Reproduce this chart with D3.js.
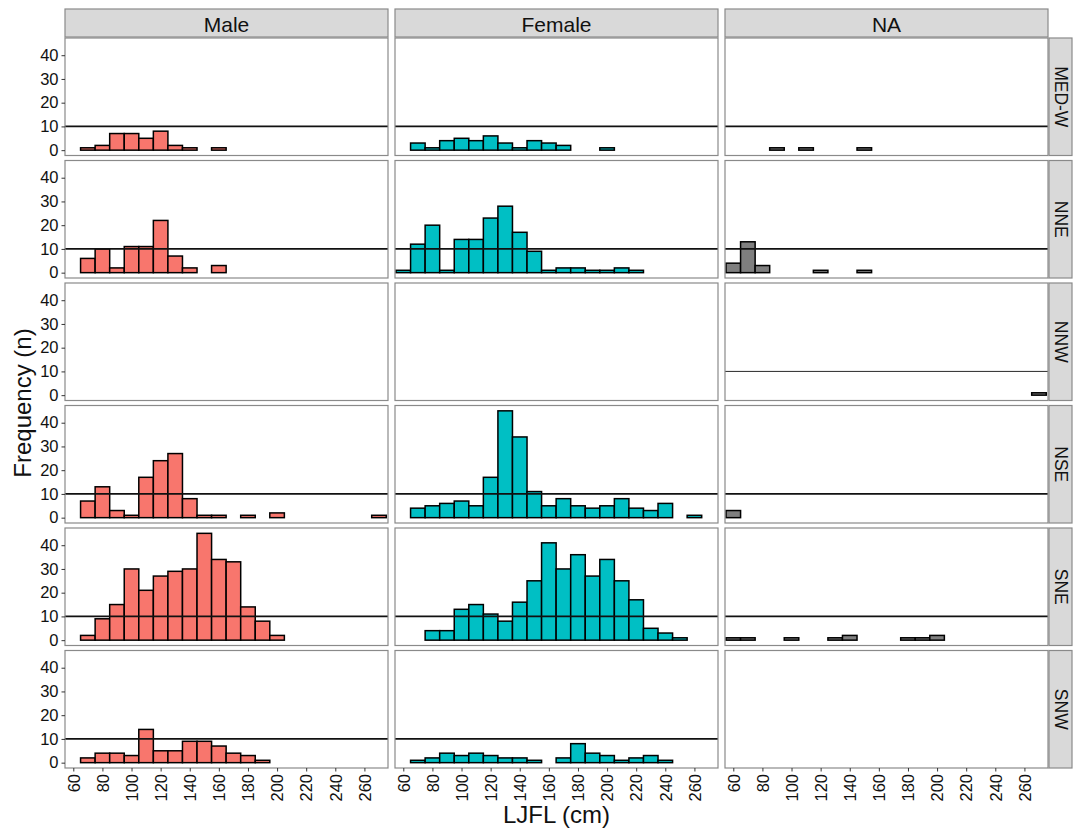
<!DOCTYPE html>
<html>
<head>
<meta charset="utf-8">
<script src="https://cdn.jsdelivr.net/npm/d3@7"></script>
<style>
  html, body { margin: 0; padding: 0; background: #fff; }
  svg { display: block; font-family: "Liberation Sans", Arial, sans-serif; }
</style>
</head>
<body>
<svg id="chart" width="1073" height="831"></svg>
<script>
// Length classes (cm, bin centres, 10 cm wide)
const bins = [60, 70, 80, 90, 100, 110, 120, 130, 140, 150, 160, 170, 180, 190, 200, 210, 220, 230, 240, 250, 260, 270];
const sexes = ["Male", "Female", "NA"];
const regions = ["MED-W", "NNE", "NNW", "NSE", "SNE", "SNW"];
const xTicks = [60, 80, 100, 120, 140, 160, 180, 200, 220, 240, 260];
const yTicks = [0, 10, 20, 30, 40];
const refLine = 10;

// Counts per length class, one array per region and sex
const maleMEDW   = [0, 1, 2, 7, 7, 5, 8, 2, 1, 0, 1, 0, 0, 0, 0, 0, 0, 0, 0, 0, 0, 0];
const femaleMEDW = [0, 3, 1, 4, 5, 4, 6, 3, 1, 4, 3, 2, 0, 0, 1, 0, 0, 0, 0, 0, 0, 0];
const naMEDW     = [0, 0, 0, 1, 0, 1, 0, 0, 0, 1, 0, 0, 0, 0, 0, 0, 0, 0, 0, 0, 0, 0];
const maleNNE    = [0, 6, 10, 2, 11, 11, 22, 7, 2, 0, 3, 0, 0, 0, 0, 0, 0, 0, 0, 0, 0, 0];
const femaleNNE  = [1, 12, 20, 1, 14, 14, 23, 28, 17, 9, 1, 2, 2, 1, 1, 2, 1, 0, 0, 0, 0, 0];
const naNNE      = [4, 13, 3, 0, 0, 0, 1, 0, 0, 1, 0, 0, 0, 0, 0, 0, 0, 0, 0, 0, 0, 0];
const maleNNW    = [0, 0, 0, 0, 0, 0, 0, 0, 0, 0, 0, 0, 0, 0, 0, 0, 0, 0, 0, 0, 0, 0];
const femaleNNW  = [0, 0, 0, 0, 0, 0, 0, 0, 0, 0, 0, 0, 0, 0, 0, 0, 0, 0, 0, 0, 0, 0];
const naNNW      = [0, 0, 0, 0, 0, 0, 0, 0, 0, 0, 0, 0, 0, 0, 0, 0, 0, 0, 0, 0, 0, 1];
const maleNSE    = [0, 7, 13, 3, 1, 17, 24, 27, 8, 1, 1, 0, 1, 0, 2, 0, 0, 0, 0, 0, 0, 1];
const femaleNSE  = [0, 4, 5, 6, 7, 5, 17, 45, 34, 11, 5, 8, 5, 4, 5, 8, 4, 3, 6, 0, 1, 0];
const naNSE      = [3, 0, 0, 0, 0, 0, 0, 0, 0, 0, 0, 0, 0, 0, 0, 0, 0, 0, 0, 0, 0, 0];
const maleSNE    = [0, 2, 9, 15, 30, 21, 27, 29, 30, 45, 34, 33, 14, 8, 2, 0, 0, 0, 0, 0, 0, 0];
const femaleSNE  = [0, 0, 4, 4, 13, 15, 11, 8, 16, 25, 41, 30, 36, 27, 34, 25, 17, 5, 3, 1, 0, 0];
const naSNE      = [1, 1, 0, 0, 1, 0, 0, 1, 2, 0, 0, 0, 1, 1, 2, 0, 0, 0, 0, 0, 0, 0];
const maleSNW    = [0, 2, 4, 4, 3, 14, 5, 5, 9, 9, 7, 4, 3, 1, 0, 0, 0, 0, 0, 0, 0, 0];
const femaleSNW  = [0, 1, 2, 4, 3, 4, 3, 2, 2, 1, 0, 2, 8, 4, 3, 1, 2, 3, 1, 0, 0, 0];
const naSNW      = [0, 0, 0, 0, 0, 0, 0, 0, 0, 0, 0, 0, 0, 0, 0, 0, 0, 0, 0, 0, 0, 0];

const fillColors = ["#F8766D", "#00BFC4", "#7F7F7F"];

const panelCounts = {
  "MED-W": [maleMEDW, femaleMEDW, naMEDW],
  "NNE":   [maleNNE, femaleNNE, naNNE],
  "NNW":   [maleNNW, femaleNNW, naNNW],
  "NSE":   [maleNSE, femaleNSE, naNSE],
  "SNE":   [maleSNE, femaleSNE, naSNE],
  "SNW":   [maleSNW, femaleSNW, naSNW]
};

// Layout
const svg = d3.select("#chart");
const gridLeft = 65, gridRight = 1048, gridTop = 38, gridBottom = 768;
const colGap = 7, rowGap = 5;
const colW = (gridRight - gridLeft - colGap * 2) / 3;
const rowH = (gridBottom - gridTop - rowGap * 5) / 6;

const colX = s => gridLeft + sexes.indexOf(s) * (colW + colGap);
const rowY = r => gridTop + regions.indexOf(r) * (rowH + rowGap);

const x = d3.scaleLinear().domain([54.3, 276.2]).range([0, colW]);
const y = d3.scaleLinear().domain([-2.25, 47.25]).range([rowH, 0]);

const borderColor = "#8a8a8a";
const textColor = "#111";

// Top strips
sexes.forEach(s => {
  const g = svg.append("g").attr("transform", `translate(${colX(s)},${9})`);
  g.append("rect").attr("width", colW).attr("height", gridTop - 10)
    .attr("fill", "#D9D9D9").attr("stroke", borderColor).attr("stroke-width", 1.2);
  g.append("text").attr("x", colW / 2).attr("y", (gridTop - 10) / 2 + 1)
    .attr("text-anchor", "middle").attr("dominant-baseline", "central")
    .attr("font-size", 21).attr("fill", textColor).text(s);
});

// Right strips
regions.forEach(r => {
  const g = svg.append("g").attr("transform", `translate(${gridRight + 1},${rowY(r)})`);
  g.append("rect").attr("width", 23).attr("height", rowH)
    .attr("fill", "#D9D9D9").attr("stroke", borderColor).attr("stroke-width", 1.2);
  g.append("text").attr("transform", `translate(${11.5},${rowH / 2}) rotate(90)`)
    .attr("text-anchor", "middle").attr("dominant-baseline", "central")
    .attr("font-size", 17.5).attr("fill", textColor).text(r);
});

// Panels
regions.forEach(r => {
  sexes.forEach((s, si) => {
    const counts = panelCounts[r][si];
    const total = d3.sum(counts);
    const g = svg.append("g").attr("transform", `translate(${colX(s)},${rowY(r)})`);
    g.append("rect").attr("width", colW).attr("height", rowH).attr("fill", "#fff");

    const data = bins.map((b, i) => ({ bin: b, n: counts[i] })).filter(d => d.n > 0);
    g.selectAll("rect.bar").data(data).enter().append("rect")
      .attr("class", "bar")
      .attr("x", d => x(d.bin - 5))
      .attr("width", d => x(d.bin + 5) - x(d.bin - 5))
      .attr("y", d => y(d.n))
      .attr("height", d => y(0) - y(d.n))
      .attr("fill", fillColors[si])
      .attr("stroke", "#000").attr("stroke-width", 1.5);

    if (total > 0) {
      g.append("line")
        .attr("x1", 0).attr("x2", colW)
        .attr("y1", y(refLine)).attr("y2", y(refLine))
        .attr("stroke", "#111").attr("stroke-width", total > 1 ? 1.7 : 0.9);
    }

    g.append("rect").attr("width", colW).attr("height", rowH)
      .attr("fill", "none").attr("stroke", borderColor).attr("stroke-width", 1.2);

    // y axis on the first column
    if (si === 0) {
      const ax = g.append("g").call(d3.axisLeft(y).tickValues(yTicks).tickSize(3.5).tickPadding(3));
      ax.select(".domain").remove();
      ax.selectAll(".tick line").attr("stroke", "#333");
      ax.selectAll(".tick text").attr("font-size", 16.5).attr("fill", textColor)
        .attr("font-family", "Liberation Sans, Arial, sans-serif");
    }
    // x axis on the bottom row
    if (r === regions[regions.length - 1]) {
      const ax = g.append("g").attr("transform", `translate(0,${rowH})`)
        .call(d3.axisBottom(x).tickValues(xTicks).tickSize(3.5).tickPadding(4));
      ax.select(".domain").remove();
      ax.selectAll(".tick line").attr("stroke", "#333");
      ax.selectAll(".tick text")
        .attr("font-size", 16.5).attr("fill", textColor)
        .attr("font-family", "Liberation Sans, Arial, sans-serif")
        .attr("transform", "rotate(-90)")
        .attr("text-anchor", "end")
        .attr("dy", "0.35em")
        .attr("x", -6).attr("y", 0);
    }
  });
});

// Axis titles
svg.append("text").attr("x", (gridLeft + gridRight) / 2).attr("y", 823)
  .attr("text-anchor", "middle").attr("font-size", 24).attr("fill", textColor)
  .text("LJFL (cm)");
svg.append("text").attr("transform", `translate(22,${(gridTop + gridBottom) / 2}) rotate(-90)`)
  .attr("text-anchor", "middle").attr("dominant-baseline", "central")
  .attr("font-size", 24).attr("fill", textColor)
  .text("Frequency (n)");
</script>
</body>
</html>
